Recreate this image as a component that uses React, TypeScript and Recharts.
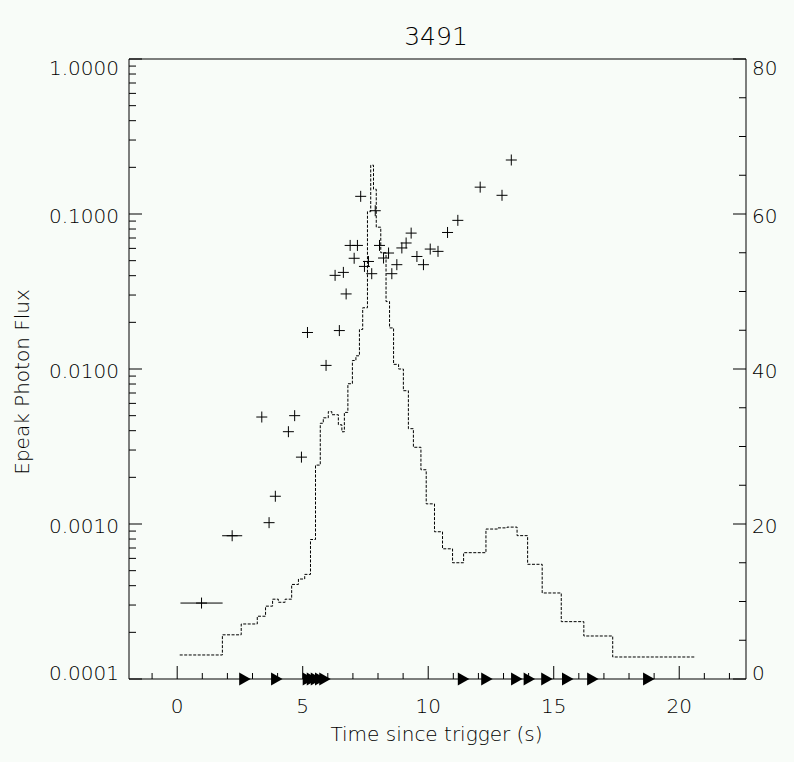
import React from 'react';
import { ComposedChart, XAxis, YAxis, Line, Scatter, ErrorBar } from 'recharts';

// ---- data ----
const title = '3491';
const xTitle = 'Time since trigger (s)';
const yTitle = 'Epeak Photon Flux';

// step-line (right axis): bin start time and value
const stepTimes = [
  0.1, 1.8, 2.55, 3.19, 3.52, 3.8, 4.03, 4.3, 4.56, 4.83, 5.08, 5.31, 5.51, 5.7, 5.82, 6.02,
  6.16, 6.42, 6.56, 6.66, 6.8, 6.98, 7.12, 7.26, 7.39, 7.58, 7.71, 7.82, 7.93, 8.11, 8.32,
  8.46, 8.62, 8.82, 9.01, 9.21, 9.41, 9.71, 9.92, 10.25, 10.57, 10.97, 11.41, 12.3, 12.76,
  13.14, 13.54, 13.96, 14.54, 15.3, 16.2, 17.35, 20.66,
];
const stepValues = [
  3.1, 5.7, 7.1, 8.1, 9.4, 10.3, 9.9, 10.3, 12.2, 12.9, 13.5, 18.0, 27.6, 33.0, 33.7, 34.5,
  34.1, 32.8, 31.9, 34.4, 38.1, 41.1, 41.7, 45.1, 47.9, 60.3, 66.3, 63.2, 58.3, 55.0, 48.7,
  45.3, 40.6, 40.0, 37.2, 32.3, 29.9, 27.0, 22.6, 19.0, 16.8, 15.0, 16.3, 19.35, 19.5,
  19.6, 18.5, 14.8, 11.1, 7.4, 5.55, 2.84, 2.84,
];

// Epeak photon flux points (left log axis)
const fluxTimes = [
  0.97, 2.19, 3.37, 3.66, 3.91, 4.43, 4.68, 4.95, 5.19, 5.93, 6.29, 6.46, 6.62, 6.73, 6.89,
  7.05, 7.18, 7.31, 7.46, 7.62, 7.75, 7.89, 8.06, 8.22, 8.42, 8.55, 8.75, 8.95, 9.12, 9.32,
  9.55, 9.81, 10.08, 10.39, 10.77, 11.18, 12.07, 12.94, 13.31,
];
const fluxValues = [
  0.000309, 0.00084, 0.0049, 0.00102, 0.00151, 0.00394, 0.005, 0.0027, 0.0172, 0.01055,
  0.0402, 0.0177, 0.042, 0.0305, 0.0627, 0.0518, 0.0627, 0.13, 0.0459, 0.0494, 0.0412,
  0.105, 0.0627, 0.052, 0.056, 0.0412, 0.0471, 0.0604, 0.065, 0.0753, 0.0532, 0.0471,
  0.0594, 0.0574, 0.076, 0.091, 0.149, 0.132, 0.223,
];
const fluxTimeErr = [
  0.84, 0.4, 0, 0, 0, 0, 0, 0, 0, 0, 0, 0, 0, 0, 0, 0, 0, 0, 0, 0, 0, 0, 0, 0, 0, 0, 0, 0,
  0, 0, 0, 0, 0, 0, 0, 0, 0, 0, 0,
];

// triangle markers along time axis
const markerTimes = [2.47, 3.74, 5.0, 5.16, 5.32, 5.49, 5.66, 11.18, 12.11, 13.3, 13.8, 14.5, 15.33, 16.33, 18.56];

const xDomain = [-1.92, 22.66];
const xTicks = [-1, 0, 1, 2, 3, 4, 5, 6, 7, 8, 9, 10, 11, 12, 13, 14, 15, 16, 17, 18, 19, 20, 21, 22];
const logDomain = [0.0001, 1];
const decades = [0.0001, 0.001, 0.01, 0.1];
const mults = [1, 2, 3, 4, 5, 6, 7, 8, 9];
const logTicks = decades.flatMap((d) => mults.map((m) => +(d * m).toPrecision(3))).concat([1]);
const rightDomain = [0, 80];
const rightTicks = [0, 5, 10, 15, 20, 25, 30, 35, 40, 45, 50, 55, 60, 65, 70, 75, 80];

const stepData = stepTimes.map((t, i) => ({ t, v: stepValues[i] }));
const fluxData = fluxTimes.map((t, i) => ({ t, f: fluxValues[i], dx: fluxTimeErr[i] }));
const markerData = markerTimes.map((t) => ({ t, f: logDomain[0] }));

// ---- styles ----
const BG = '#f8fcf8';
const FONT = '"DejaVu Sans", sans-serif';
const FS = 20;
const textStyle: React.CSSProperties = { fontFamily: FONT, fontSize: FS, fontWeight: 200 };

const isDecade = (v: number) => Math.abs(Math.log10(v) - Math.round(Math.log10(v))) < 1e-6;

const LeftTick = (p: any) => {
  const { x, y, payload } = p;
  const v = payload.value;
  const major = isDecade(v);
  let base = y + 8.6;
  if (v === logDomain[1]) base = 75;
  if (v === logDomain[0]) base = y + 1;
  return (
    <g>
      <line x1={x} y1={y} x2={x + (major ? 13 : 7)} y2={y} stroke="#000" strokeWidth={1} />
      {major && (
        <text x={119} y={base} textAnchor="end" fill="#000" style={textStyle}>
          {v.toFixed(4)}
        </text>
      )}
    </g>
  );
};

const RightTick = (p: any) => {
  const { x, y, payload } = p;
  const v = payload.value;
  const major = v % 20 === 0;
  let base = y + 8.6;
  if (v === rightDomain[1]) base = 75;
  if (v === rightDomain[0]) base = y + 1;
  return (
    <g>
      <line x1={x - (major ? 13 : 7)} y1={y} x2={x} y2={y} stroke="#000" strokeWidth={1} />
      {major && (
        <text x={x + 6} y={base} textAnchor="start" fill="#000" style={textStyle}>
          {String(v)}
        </text>
      )}
    </g>
  );
};

const BottomTick = (p: any) => {
  const { x, y, payload } = p;
  const v = payload.value;
  const major = v % 5 === 0;
  return (
    <g>
      <line x1={x} y1={y - (major ? 13 : 6)} x2={x} y2={y} stroke="#000" strokeWidth={1} />
      {major && (
        <text x={x} y={y + 34} textAnchor="middle" fill="#000" style={textStyle}>
          {String(v)}
        </text>
      )}
    </g>
  );
};

const TopTick = (p: any) => {
  const { x, y, payload } = p;
  const major = payload.value % 5 === 0;
  return <line x1={x} y1={y} x2={x} y2={y + (major ? 13 : 6)} stroke="#000" strokeWidth={1} />;
};

const Plus = (p: any) => {
  const { cx, cy } = p;
  if (cx == null || cy == null) return null;
  return (
    <g>
      <line x1={cx - 5.5} y1={cy} x2={cx + 5.5} y2={cy} stroke="#000" strokeWidth={1} />
      <line x1={cx} y1={cy - 5.5} x2={cx} y2={cy + 5.5} stroke="#000" strokeWidth={1} />
    </g>
  );
};

const Tri = (p: any) => {
  const { cx, cy } = p;
  if (cx == null || cy == null) return null;
  return <path d={`M${cx},${cy - 6.5}L${cx + 11.5},${cy}L${cx},${cy + 6.5}Z`} fill="#000" stroke="none" />;
};

export default function App() {
  return (
    <div style={{ position: 'absolute', left: 0, top: 0, width: 794, height: 762, background: BG }}>
      <ComposedChart width={794} height={762} margin={{ top: 49, right: 0, bottom: 0, left: 0 }}>
        <XAxis
          xAxisId="b"
          dataKey="t"
          type="number"
          domain={xDomain}
          ticks={xTicks}
          interval={0}
          orientation="bottom"
          height={83}
          tickLine={false}
          tickSize={0}
          tickMargin={0}
          tick={(p: any) => <BottomTick {...p} />}
          axisLine={{ stroke: '#000', strokeWidth: 1 }}
        />
        <XAxis
          xAxisId="t"
          type="number"
          domain={xDomain}
          allowDataOverflow
          ticks={xTicks}
          interval={0}
          orientation="top"
          height={10}
          tickLine={false}
          tickSize={0}
          tickMargin={0}
          tick={(p: any) => <TopTick {...p} />}
          axisLine={{ stroke: '#000', strokeWidth: 1 }}
        />
        <YAxis
          yAxisId="l"
          dataKey="f"
          scale="log"
          type="number"
          domain={logDomain}
          ticks={logTicks}
          interval={0}
          width={129}
          tickLine={false}
          tickSize={0}
          tickMargin={0}
          tick={(p: any) => <LeftTick {...p} />}
          axisLine={{ stroke: '#000', strokeWidth: 1 }}
        />
        <YAxis
          yAxisId="r"
          orientation="right"
          type="number"
          domain={rightDomain}
          ticks={rightTicks}
          interval={0}
          width={48}
          tickLine={false}
          tickSize={0}
          tickMargin={0}
          tick={(p: any) => <RightTick {...p} />}
          axisLine={{ stroke: '#000', strokeWidth: 1 }}
        />
        <Line
          data={stepData}
          xAxisId="b"
          yAxisId="r"
          dataKey="v"
          type="stepAfter"
          stroke="#000"
          strokeWidth={1}
          strokeDasharray="3 1.5"
          dot={false}
          activeDot={false}
          isAnimationActive={false}
        />
        <Scatter
          data={fluxData}
          xAxisId="b"
          yAxisId="l"
          dataKey="f"
          shape={(p: any) => <Plus {...p} />}
          isAnimationActive={false}
        >
          <ErrorBar dataKey="dx" direction="x" width={0} stroke="#000" strokeWidth={1} isAnimationActive={false} />
        </Scatter>
        <Scatter
          data={markerData}
          xAxisId="b"
          yAxisId="l"
          dataKey="f"
          shape={(p: any) => <Tri {...p} />}
          isAnimationActive={false}
        />
      </ComposedChart>
      <svg width={794} height={762} style={{ position: 'absolute', left: 0, top: 0, pointerEvents: 'none' }}>
        <text x={436} y={45} textAnchor="middle" fill="#000" style={{ ...textStyle, fontSize: 25 }}>
          {title}
        </text>
        <text x={436.5} y={741} textAnchor="middle" fill="#000" style={textStyle}>
          {xTitle}
        </text>
        <text
          transform="translate(29,382) rotate(-90)"
          x={0}
          y={0}
          textAnchor="middle"
          fill="#000"
          style={textStyle}
        >
          {yTitle}
        </text>
      </svg>
    </div>
  );
}
